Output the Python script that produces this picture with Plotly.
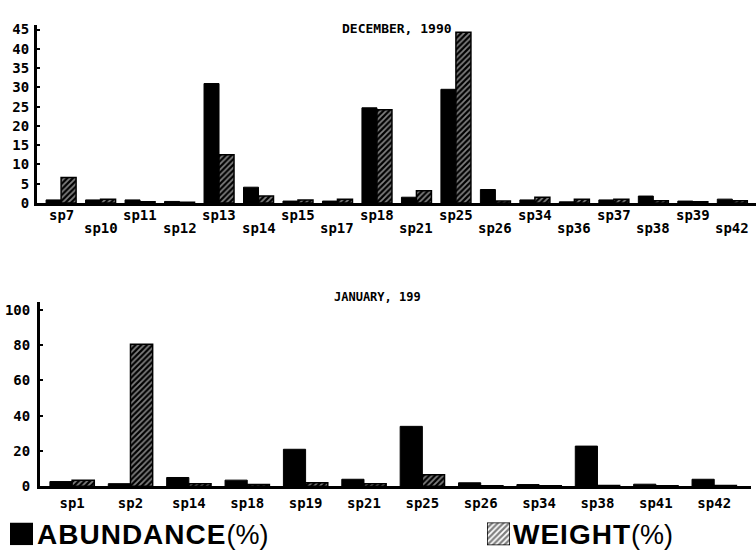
import plotly.graph_objects as go

W, H = 756, 560

dec_species = ["sp7", "sp10", "sp11", "sp12", "sp13", "sp14", "sp15", "sp17", "sp18",
               "sp21", "sp25", "sp26", "sp34", "sp36", "sp37", "sp38", "sp39", "sp42"]
dec_abundance = [0.8, 0.8, 0.8, 0.4, 31, 4.1, 0.5, 0.5, 24.7,
                 1.5, 29.5, 3.5, 0.8, 0.3, 0.8, 1.8, 0.5, 1.0]
dec_weight = [6.6, 1.0, 0.3, 0.2, 12.5, 1.8, 0.8, 1.0, 24.2,
              3.2, 44.3, 0.5, 1.5, 1.0, 1.0, 0.6, 0.3, 0.6]

jan_species = ["sp1", "sp2", "sp14", "sp18", "sp19", "sp21", "sp25", "sp26",
               "sp34", "sp38", "sp41", "sp42"]
jan_abundance = [2.7, 1.5, 5, 3.5, 21, 4, 34, 2, 1, 22.8, 1.2, 4]
jan_weight = [3.5, 80.5, 1.5, 1, 2, 1.5, 6.5, 0.3, 0.3, 0.5, 0.3, 0.5]

dec_ticks = [0, 5, 10, 15, 20, 25, 30, 35, 40, 45]
jan_ticks = [0, 20, 40, 60, 80, 100]

titles = ["DECEMBER, 1990", "JANUARY, 199"]
legend_names = ["ABUNDANCE", "WEIGHT"]

MONO = "DejaVu Sans Mono"
tickfont = dict(family=MONO, size=14, color="black", weight="bold")

hatch = dict(shape="/", fgcolor="white", bgcolor="black", size=4, solidity=0.45)

fig = go.Figure()

# December chart
fig.add_trace(go.Bar(x=dec_species, y=dec_abundance, marker=dict(color="black", line=dict(color="black", width=1)),
                     xaxis="x", yaxis="y", showlegend=False))
fig.add_trace(go.Bar(x=dec_species, y=dec_weight,
                     marker=dict(color="black", pattern=hatch, line=dict(color="black", width=1.5)),
                     xaxis="x", yaxis="y", showlegend=False))
# January chart
fig.add_trace(go.Bar(x=jan_species, y=jan_abundance, marker=dict(color="black", line=dict(color="black", width=1)),
                     xaxis="x2", yaxis="y2", showlegend=False))
fig.add_trace(go.Bar(x=jan_species, y=jan_weight,
                     marker=dict(color="black", pattern=hatch, line=dict(color="black", width=1.5)),
                     xaxis="x2", yaxis="y2", showlegend=False))
# legend swatches
fig.add_trace(go.Bar(x=[0], y=[1], width=[1], marker=dict(color="black", line=dict(width=0)),
                     xaxis="x3", yaxis="y3", showlegend=False))
fig.add_trace(go.Bar(x=[0], y=[1], width=[1],
                     marker=dict(color="white", pattern=dict(shape="/", fgcolor="black", bgcolor="white", size=4, solidity=0.55),
                                 line=dict(color="black", width=1.5)),
                     xaxis="x4", yaxis="y4", showlegend=False))

def px_x(p):
    return p / W

def px_y(p):
    return 1 - p / H

axis_common = dict(showline=True, linecolor="black", linewidth=3, showgrid=False, zeroline=False)

layout = dict(
    width=W, height=H, margin=dict(l=0, r=0, t=0, b=0),
    paper_bgcolor="white", plot_bgcolor="white",
    barmode="group", bargap=0.24, bargroupgap=0,
    xaxis=dict(domain=[px_x(37), 1.0], range=[-0.61, 17.6], showticklabels=False, ticks="",
               anchor="y", **axis_common),
    yaxis=dict(domain=[px_y(204), px_y(22)], range=[0, 46.3], tickvals=dec_ticks,
               ticks="inside", ticklen=3, tickwidth=2, tickcolor="black",
               tickfont=tickfont, ticklabelstandoff=2, anchor="x", **axis_common),
    xaxis2=dict(domain=[px_x(40), px_x(751)], range=[-0.55, 11.63], ticks="",
                tickfont=tickfont, ticklabelstandoff=2, anchor="y2", **axis_common),
    yaxis2=dict(domain=[px_y(493), px_y(305)], range=[0, 104.5], tickvals=jan_ticks,
                ticks="inside", ticklen=3, tickwidth=2, tickcolor="black",
                tickfont=tickfont, ticklabelstandoff=4, anchor="x2", **axis_common),
    xaxis3=dict(domain=[px_x(10), px_x(33)], range=[-0.5, 0.5], visible=False, anchor="y3"),
    yaxis3=dict(domain=[px_y(553), px_y(530)], range=[0, 1], visible=False, anchor="x3"),
    xaxis4=dict(domain=[px_x(487), px_x(510)], range=[-0.5, 0.5], visible=False, anchor="y4"),
    yaxis4=dict(domain=[px_y(553), px_y(530)], range=[0, 1], visible=False, anchor="x4"),
    font=dict(family=MONO, color="black"),
)

annotations = []
# alternating category labels for December chart
for i, sp in enumerate(dec_species):
    annotations.append(dict(x=sp, xref="x", y=0, yref="y domain", text=sp, showarrow=False,
                            yanchor="middle", yshift=-12 if i % 2 == 0 else -25,
                            font=tickfont))
# titles
annotations.append(dict(x=px_x(397), y=px_y(16), xref="paper", yref="paper", text=titles[0],
                        showarrow=False, font=dict(family=MONO, size=13, color="black", weight="bold")))
annotations.append(dict(x=px_x(377), y=px_y(300), xref="paper", yref="paper", text=titles[1],
                        showarrow=False, font=dict(family=MONO, size=12, color="black", weight="bold")))
# legend texts
pct = "<span style='font-weight:normal;font-size:27px'>(%)</span>"
annotations.append(dict(x=px_x(35), y=px_y(542), xref="paper", yref="paper", xanchor="left", yanchor="middle",
                        text="<span style='letter-spacing:1px'>" + legend_names[0] + "</span>" + pct,
                        showarrow=False,
                        font=dict(family="Liberation Sans", size=28, color="black", weight="bold")))
annotations.append(dict(x=px_x(511), y=px_y(542), xref="paper", yref="paper", xanchor="left", yanchor="middle",
                        text="<span style='letter-spacing:1px'>" + legend_names[1] + "</span>" + pct,
                        showarrow=False,
                        font=dict(family="Liberation Sans", size=28, color="black", weight="bold")))
layout["annotations"] = annotations

fig.update_layout(**layout)
fig.write_html("out.html")
